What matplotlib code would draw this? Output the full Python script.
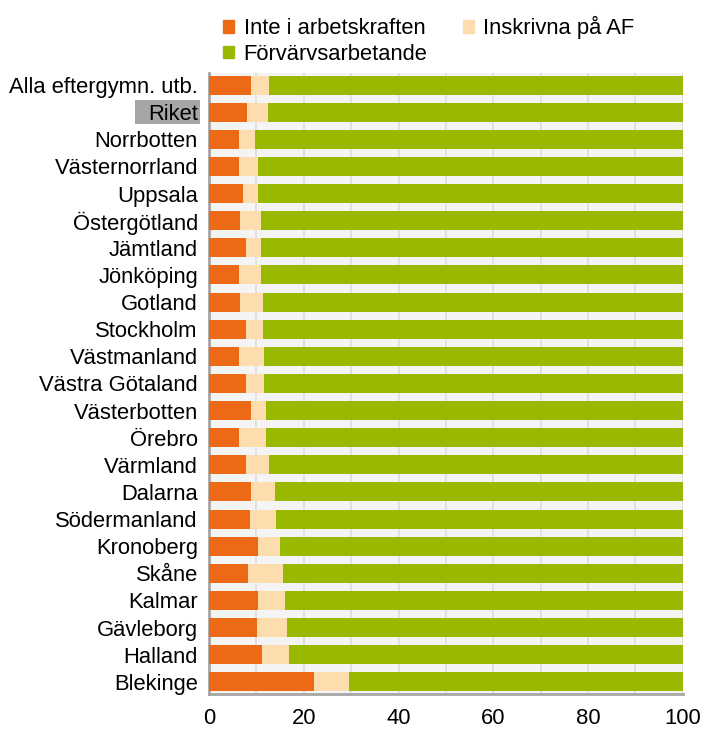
import matplotlib
matplotlib.use("Agg")
import matplotlib.pyplot as plt
from matplotlib.patches import Patch, Rectangle
from matplotlib.transforms import blended_transform_factory
import numpy as np

plt.rcParams['font.family'] = ['Liberation Sans', 'DejaVu Sans']

# regions, top to bottom
regions = ['Alla eftergymn. utb.', 'Riket', 'Norrbotten', 'Västernorrland', 'Uppsala',
           'Östergötland', 'Jämtland', 'Jönköping', 'Gotland', 'Stockholm',
           'Västmanland', 'Västra Götaland', 'Västerbotten', 'Örebro', 'Värmland',
           'Dalarna', 'Södermanland', 'Kronoberg', 'Skåne', 'Kalmar',
           'Gävleborg', 'Halland', 'Blekinge']
inte_i_ak = [8.9, 8.1, 6.4, 6.4, 7.2, 6.6, 7.8, 6.4, 6.6, 7.8,
             6.4, 7.8, 8.9, 6.4, 7.8, 8.9, 8.7, 10.4, 8.3, 10.4,
             10.1, 11.2, 22.2]
inskrivna = [3.8, 4.3, 3.4, 4.0, 3.2, 4.4, 3.2, 4.6, 4.7, 3.5,
             5.2, 3.8, 3.2, 5.7, 4.9, 5.0, 5.4, 4.6, 7.4, 5.6,
             6.4, 5.6, 7.4]
forvarv = [100 - a - b for a, b in zip(inte_i_ak, inskrivna)]

c_inte = '#EC6A16'
c_insk = '#FDDCAE'
c_forv = '#99B800'
fs = 15.8

fig = plt.figure(figsize=(7.05, 7.29), dpi=100)
ax = fig.add_axes([0.2965, 0.048, 0.672, 0.852])
ax.set_facecolor('#F4F4F4')

y = np.arange(len(regions))
h = 0.7
inte_arr = np.array(inte_i_ak)
insk_arr = np.array(inskrivna)
ax.barh(y, inte_arr, height=h, color=c_inte, zorder=3)
ax.barh(y, insk_arr, left=inte_arr, height=h, color=c_insk, zorder=3)
ax.barh(y, forvarv, left=inte_arr + insk_arr, height=h, color=c_forv, zorder=3)

ax.set_xlim(0, 100)
ax.set_ylim(len(regions) - 0.55, -0.45)
ax.set_xticks(np.arange(0, 101, 20))
ax.set_xticks(np.arange(0, 101, 10), minor=True)
ax.grid(axis='x', which='both', color='#DCDCDC', linewidth=1.2, zorder=0)
ax.set_yticks(y)
ax.set_yticklabels(regions, fontsize=fs)
ax.tick_params(axis='y', length=0, pad=8)
ax.tick_params(axis='x', which='both', length=0, pad=10, labelsize=fs)

for s in ['top', 'right']:
    ax.spines[s].set_visible(False)
for s in ['left', 'bottom']:
    ax.spines[s].set_color('#A6A6A6')
    ax.spines[s].set_linewidth(2)

# grey box behind the Riket label
riket_row = regions.index('Riket')
trans = blended_transform_factory(fig.transFigure, ax.transData)
ax.add_patch(Rectangle((135 / 705, riket_row - 0.44), 65 / 705, 0.88,
                       transform=trans, facecolor='#A6A6A6', edgecolor='none',
                       clip_on=False, zorder=0))

# order so the rows read: Inte, Inskrivna / Förvärvs
handles = [Patch(color=c_inte), Patch(color=c_forv), Patch(color=c_insk)]
labels = ['Inte i arbetskraften', 'Förvärvsarbetande', 'Inskrivna på AF']
fig.legend(handles, labels, loc='upper left', bbox_to_anchor=(0.288, 1.005),
           ncol=2, frameon=False, fontsize=fs, handlelength=0.5, handleheight=0.5,
           handletextpad=0.45, columnspacing=1.6, labelspacing=0.2)

fig.savefig('out.png', dpi=100)
